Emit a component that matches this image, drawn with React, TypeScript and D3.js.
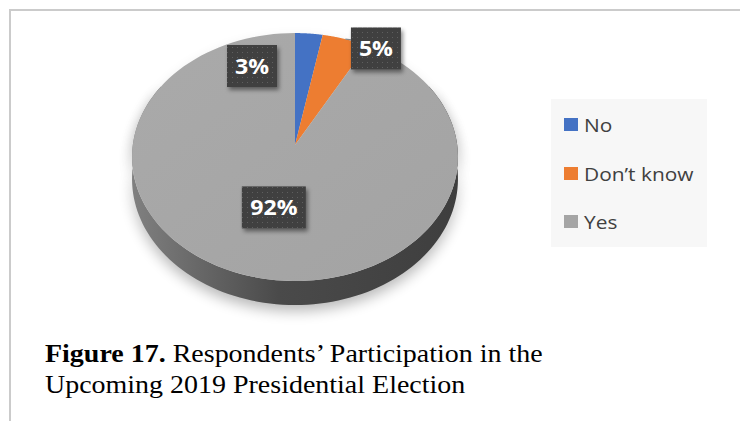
import React from "react";
import * as d3 from "d3";

const categories = ["No", "Don\u2019t know", "Yes"];
const values = [3, 5, 92];
const labels = ["3%", "5%", "92%"];
const colors = ["#4472c4", "#ed7d31", "#a5a5a5"];
// label anchor (angle in degrees, radius fraction) in the pie's plane
const labelAnchors: [number, number][] = [[-22.4, 0.742], [32.4, 1.008], [194.4, 0.5]];
const captionBold = "Figure 17.";
const captionRest = " Respondents\u2019 Participation in the";
const captionLine2 = "Upcoming 2019 Presidential Election";

const W = 740, H = 421;
const CX = 295, CY = 145, PA = 0.097, BR = 122.8, CR = 162.2, DEPTH = 21.7;

function proj(theta: number, f: number, dz = 0): [number, number] {
  const Z = f * Math.cos(theta);
  const X = f * Math.sin(theta);
  const s = 1 / (1 + PA * Z);
  return [CX + CR * X * s, CY - BR * Z * s + DEPTH * dz * s];
}

export default function App() {
  const pie = d3.pie<number>().sort(null).value((d) => d);
  const arcs = pie(values);
  const line = d3.line<[number, number]>().x((d) => d[0]).y((d) => d[1]);

  const sample = (a0: number, a1: number, dz: number) =>
    d3.range(0, 121).map((i) => proj(a0 + ((a1 - a0) * i) / 120, 1, dz));

  const slicePath = (a0: number, a1: number) =>
    line([[CX, CY], ...sample(a0, a1, 0)])! + "Z";

  const sideTop = sample((60 * Math.PI) / 180, (300 * Math.PI) / 180, 0);
  const sideBot = sample((300 * Math.PI) / 180, (60 * Math.PI) / 180, 1);
  const sidePath = line([...sideTop, ...sideBot])! + "Z";
  const fullTop = line(sample(0, 2 * Math.PI, 0))! + "Z";

  const legendY = [124.5, 173.5, 221.5];
  const sans = "'Open Sans', 'Noto Sans', sans-serif";
  const serif = "'Liberation Serif', 'Times New Roman', serif";

  return (
    <svg width={W} height={H} style={{ position: "absolute", left: 0, top: 0 }}>
      <defs>
        <linearGradient id="side" x1="0" x2="1" y1="0" y2="0" gradientUnits="objectBoundingBox">
          <stop offset="0" stopColor="#808080" />
          <stop offset="0.45" stopColor="#4a4a4a" />
          <stop offset="1" stopColor="#3e3e3e" />
        </linearGradient>
        <linearGradient id="topg" x1="0" x2="1" y1="0" y2="1">
          <stop offset="0" stopColor="#aaaaaa" />
          <stop offset="1" stopColor="#a3a3a3" />
        </linearGradient>
        <filter id="blur" x="-20%" y="-20%" width="140%" height="140%">
          <feGaussianBlur stdDeviation="7" />
        </filter>
        <filter id="lblShadow" x="-30%" y="-30%" width="160%" height="160%">
          <feDropShadow dx="2" dy="3" stdDeviation="2" floodColor="#000" floodOpacity="0.45" />
        </filter>
        <pattern id="dots" width="5" height="5" patternUnits="userSpaceOnUse">
          <rect width="5" height="5" fill="#404040" />
          <rect x="2" y="2" width="1" height="1" fill="#5e5e5e" />
        </pattern>
      </defs>
      <rect width={W} height={H} fill="#fff" />
      {/* border lines */}
      <rect x={9} y={9} width={W - 9} height={2} fill="#cbcbcb" />
      <rect x={9} y={9} width={2} height={H - 9} fill="#cbcbcb" />

      {/* shadow */}
      <path d={sidePath} fill="#000" opacity={0.28} filter="url(#blur)" transform="translate(0,6)" />
      <path d={fullTop} fill="#000" opacity={0.12} filter="url(#blur)" transform="translate(0,6)" />

      {/* side */}
      <path d={sidePath} fill="url(#side)" />

      {/* top slices */}
      {arcs.map((a, i) => (
        <path
          key={i}
          d={slicePath(a.startAngle, a.endAngle)}
          fill={i === 2 ? "url(#topg)" : colors[i]}
        />
      ))}

      {/* leader line for 5% */}
      {(() => {
        const a = arcs[1];
        const p = proj((a.startAngle + a.endAngle) / 2, 1.0, 0);
        return <line x1={p[0]} y1={p[1]} x2={p[0] + 8} y2={p[1] + 1} stroke="#8a8a8a" strokeWidth={1.5} />;
      })()}

      {/* data labels */}
      {labels.map((t, i) => {
        const [deg, f] = labelAnchors[i];
        const [x, y] = proj((deg * Math.PI) / 180, f, 0);
        const w = t.length > 2 ? 64 : 50;
        const h = 42;
        return (
          <g key={i}>
            <rect x={x - w / 2} y={y - h / 2} width={w} height={h} fill="url(#dots)" filter="url(#lblShadow)" />
            <text
              x={0}
              y={0}
              transform={`translate(${x},${y + 8}) scale(1.05,1)`}
              textAnchor="middle"
              fill="#fff"
              fontFamily={sans}
              fontWeight={700}
              fontSize={22}
            >
              {t}
            </text>
          </g>
        );
      })}

      {/* legend */}
      <rect x={551} y={99} width={156} height={148} fill="#f7f7f7" />
      {categories.map((c, i) => (
        <g key={c}>
          <rect x={564} y={legendY[i] - 6.5} width={14} height={13} fill={colors[i]} />
          <text
            x={0}
            y={0}
            transform={`translate(584,${legendY[i] + 7}) scale(1.1,1)`}
            fill="#404040"
            fontFamily={sans}
            fontSize={19}
          >
            {c}
          </text>
        </g>
      ))}

      {/* caption */}
      <text
        x={0}
        y={0}
        transform="translate(45,362) scale(1.076,1)"
        fontFamily={serif}
        fontSize={26}
        fill="#000"
      >
        <tspan fontWeight={700}>{captionBold}</tspan>
        <tspan>{captionRest}</tspan>
      </text>
      <text
        x={0}
        y={0}
        transform="translate(45,393) scale(1.076,1)"
        fontFamily={serif}
        fontSize={26}
        fill="#000"
      >
        {captionLine2}
      </text>
    </svg>
  );
}
